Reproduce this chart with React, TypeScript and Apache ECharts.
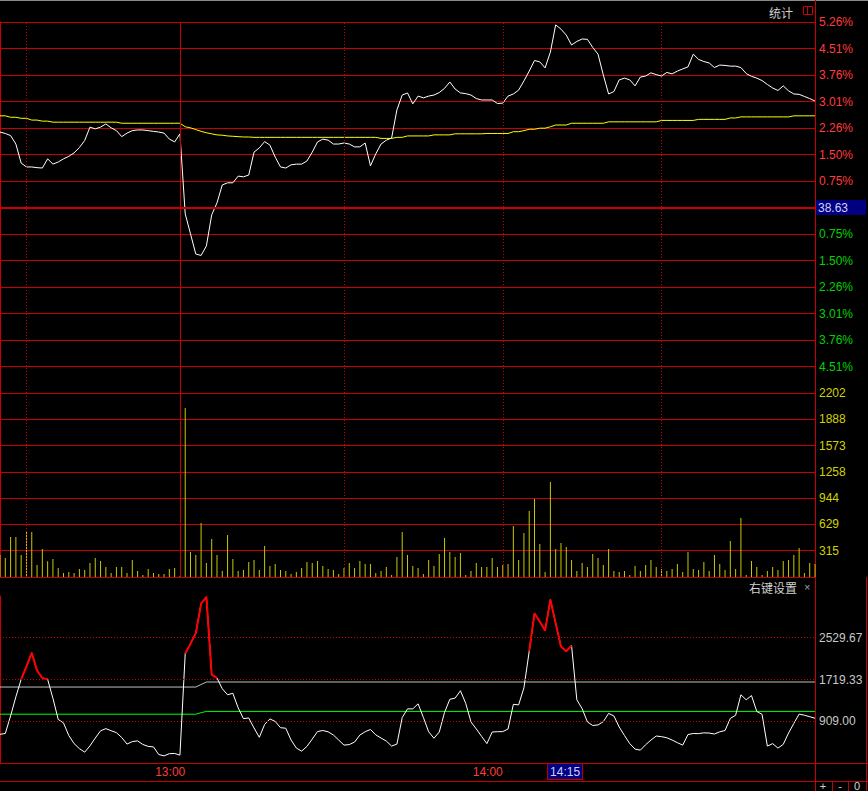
import React, { useEffect, useRef } from 'react';
import * as echarts from 'echarts';

// ---- data (one value per minute bar, left to right) ----
const priceChange = [
  2.14, 2.10, 2.04, 1.80, 1.26, 1.15, 1.15, 1.13, 1.12, 1.38,
  1.23, 1.29, 1.38, 1.45, 1.55, 1.70, 1.90, 2.28, 2.23, 2.28,
  2.37, 2.26, 2.18, 2.01, 2.11, 2.18, 2.20, 2.20, 2.18, 2.16,
  2.14, 2.11, 1.94, 1.86, 2.09, -0.18, -0.75, -1.32, -1.36, -1.09,
  -0.21, 0.13, 0.64, 0.70, 0.70, 0.89, 0.87, 0.92, 1.57, 1.69,
  1.87, 1.77, 1.43, 1.15, 1.12, 1.21, 1.23, 1.23, 1.32, 1.57,
  1.86, 1.94, 1.91, 1.80, 1.80, 1.83, 1.80, 1.72, 1.72, 1.83,
  1.18, 1.52, 1.80, 1.91, 1.97, 2.77, 3.19, 3.25, 2.94, 3.16,
  3.11, 3.16, 3.19, 3.26, 3.38, 3.56, 3.36, 3.25, 3.23, 3.19,
  3.09, 3.05, 3.05, 3.05, 2.95, 2.96, 3.16, 3.22, 3.33, 3.59,
  3.87, 4.17, 4.13, 3.96, 4.41, 5.18, 5.06, 4.89, 4.61, 4.71,
  4.78, 4.77, 4.54, 4.35, 3.76, 3.22, 3.29, 3.62, 3.67, 3.62,
  3.45, 3.70, 3.73, 3.82, 3.77, 3.73, 3.83, 3.79, 3.87, 3.93,
  3.99, 4.35, 4.20, 4.14, 4.10, 3.97, 4.04, 4.03, 4.01, 4.01,
  3.97, 3.80, 3.72, 3.67, 3.60, 3.49, 3.39, 3.32, 3.45, 3.31,
  3.22, 3.21, 3.15, 3.09, 3.02,
];

const avgChange = [
  2.60, 2.60, 2.56, 2.56, 2.53, 2.53, 2.48, 2.48, 2.45, 2.45,
  2.42, 2.42, 2.42, 2.42, 2.42, 2.42, 2.42, 2.42, 2.42, 2.42,
  2.42, 2.42, 2.42, 2.39, 2.39, 2.39, 2.39, 2.39, 2.39, 2.39,
  2.39, 2.39, 2.39, 2.39, 2.39, 2.29, 2.26, 2.21, 2.16, 2.12,
  2.09, 2.06, 2.05, 2.03, 2.02, 2.01, 2.00, 2.00, 1.99, 1.99,
  1.99, 1.99, 1.99, 1.99, 1.99, 1.99, 1.99, 1.99, 1.99, 1.99,
  1.99, 1.99, 1.99, 1.99, 1.99, 1.99, 1.99, 1.99, 1.99, 1.99,
  1.99, 1.99, 1.96, 1.96, 1.96, 1.99, 1.99, 2.03, 2.03, 2.03,
  2.03, 2.03, 2.06, 2.06, 2.06, 2.06, 2.09, 2.09, 2.09, 2.09,
  2.09, 2.09, 2.10, 2.10, 2.10, 2.10, 2.10, 2.15, 2.15, 2.18,
  2.22, 2.22, 2.25, 2.25, 2.29, 2.34, 2.34, 2.34, 2.39, 2.39,
  2.39, 2.39, 2.39, 2.39, 2.39, 2.43, 2.43, 2.43, 2.43, 2.43,
  2.43, 2.43, 2.43, 2.43, 2.43, 2.47, 2.47, 2.47, 2.47, 2.47,
  2.47, 2.47, 2.50, 2.50, 2.50, 2.50, 2.50, 2.50, 2.54, 2.54,
  2.57, 2.57, 2.57, 2.57, 2.57, 2.57, 2.57, 2.57, 2.57, 2.57,
  2.60, 2.60, 2.60, 2.60, 2.60,
];

const volume = [
  263, 227, 479, 479, 263, 539, 539, 144, 335, 188,
  215, 108, 48, 60, 48, 96, 84, 168, 227, 192,
  120, 48, 120, 120, 48, 204, 72, 24, 96, 48,
  36, 36, 96, 108, 12, 2023, 299, 263, 646, 168,
  455, 263, 72, 503, 215, 72, 84, 180, 204, 84,
  371, 132, 156, 84, 72, 36, 60, 108, 180, 168,
  192, 132, 96, 84, 36, 108, 168, 108, 192, 156,
  156, 48, 72, 120, 24, 240, 539, 263, 132, 108,
  36, 204, 132, 275, 467, 299, 239, 287, 24, 72,
  168, 120, 120, 227, 120, 144, 156, 610, 204, 527,
  790, 934, 395, 60, 1137, 335, 407, 359, 204, 72,
  168, 120, 275, 227, 144, 335, 72, 60, 72, 24,
  132, 72, 144, 204, 120, 96, 72, 96, 156, 60,
  299, 96, 84, 180, 72, 263, 156, 84, 431, 96,
  706, 24, 192, 120, 24, 72, 120, 84, 192, 204,
  263, 347, 48, 168, 156,
];

const indicator = [
  655, 671, 1012, 1384, 1722, 1975, 2237, 1891, 1749, 1722,
  1354, 944, 876, 632, 475, 378, 309, 431, 583, 723,
  766, 725, 688, 593, 466, 514, 528, 458, 421, 411,
  263, 237, 280, 284, 251, 2223, 2415, 2620, 3190, 3323,
  1813, 1749, 1540, 1423, 1452, 1169, 960, 973, 778, 597,
  847, 954, 905, 784, 774, 544, 388, 329, 421, 563,
  710, 729, 704, 641, 544, 446, 456, 505, 641, 706,
  749, 645, 583, 524, 427, 466, 981, 1149, 1149, 1247,
  983, 704, 579, 700, 1081, 1335, 1358, 1501, 1257, 895,
  759, 616, 475, 700, 706, 708, 759, 1237, 1227, 1559,
  2268, 3005, 2839, 2673, 3268, 2809, 2360, 2268, 2380, 1325,
  1153, 895, 827, 837, 901, 1061, 1012, 798, 632, 475,
  368, 348, 454, 544, 622, 610, 589, 544, 493, 446,
  651, 671, 669, 684, 680, 661, 704, 729, 964, 1026,
  1423, 1325, 1407, 1100, 1042, 427, 475, 388, 460, 680,
  866, 1048, 1026, 997, 968,
];

// breakpoints [bar, value] of the two slow reference lines of the indicator
const indSlowLine = [[0, 1573], [37, 1573], [38, 1622], [39, 1671], [154, 1671]];
const indFastLine = [[0, 1046], [37, 1046], [38, 1075], [39, 1100], [154, 1100]];

// axis ticks
const pctStep = 0.7517;
const pctTickLabels = ['0.75%', '1.50%', '2.26%', '3.01%', '3.76%', '4.51%', '5.26%'];
const basePriceLabel = '38.63';
const volTickLabels = ['315', '629', '944', '1258', '1573', '1888', '2202'];
const volMax = 2202;
const indTicks = [909.0, 1719.33, 2529.67];

// time grid (bar index)
const sessionBreak = 34;
const halfHourGrid = [5, 65, 95, 125];
const timeLabelPos = [35, 95];
const timeLabels = ['13:00', '14:00'];
const cursorPos = 110;
const cursorLabel = '14:15';

const RED_LINE = '#c80000';
const RED_TEXT = '#ff3c3c';
const GREEN_TEXT = '#00d200';
const YELLOW_TEXT = '#d2d200';
const GREY_TEXT = '#c8c8c8';
const FONT = '"Liberation Sans", Arial, sans-serif';
const CJK = '"Noto Sans CJK SC", sans-serif';

function buildOption() {
  const xMax = priceChange.length - 1;
  const volStep = volMax / volTickLabels.length;
  const indStep = indTicks[1] - indTicks[0];
  const indMin = indTicks[0] - indStep;
  const indMax = indTicks[indTicks.length - 1] + indStep;
  const threshold = indTicks[1];

  const vLines = [
    { xAxis: sessionBreak, lineStyle: { type: 'solid', color: RED_LINE, width: 1 } },
    ...halfHourGrid.map((x) => ({ xAxis: x, lineStyle: { type: [1, 2], color: RED_LINE, width: 1 } })),
  ];
  const markBase = { symbol: ['none', 'none'], silent: true, label: { show: false }, animation: false };

  const gridBase = { left: 0, right: 53, outerBoundsMode: 'none', containLabel: false, show: false };

  const xAxes = [0, 1, 2].map((g) => ({
    type: 'value',
    gridIndex: g,
    min: 0,
    max: xMax,
    axisLine: { show: g === 2, onZero: false, lineStyle: { color: RED_LINE, width: 1 } },
    axisTick: { show: false },
    splitLine: { show: false },
    axisLabel:
      g === 2
        ? {
            show: true,
            customValues: [...timeLabelPos, cursorPos],
            align: 'right',
            margin: 1,
            formatter: (v: number) => {
              if (Math.round(v) === cursorPos) return '{cur|' + cursorLabel + '}';
              const k = timeLabelPos.indexOf(Math.round(v));
              return k >= 0 ? '{t|' + timeLabels[k] + '}' : '';
            },
            rich: {
              t: { color: RED_TEXT, fontFamily: FONT, fontSize: 12, padding: [2, 0, 1, 0] },
              cur: {
                color: '#d0d0ff',
                backgroundColor: '#000080',
                borderColor: RED_LINE,
                borderWidth: 1,
                fontFamily: FONT,
                fontSize: 12,
                padding: [2, 2, 1, 2],
              },
            },
          }
        : { show: false },
  }));

  const btnText = (x: number, t: string) => ({
    type: 'text',
    x,
    y: 786,
    silent: true,
    style: {
      text: t,
      fill: '#d0d0d0',
      font: '11px ' + FONT,
      align: 'center',
      textAlign: 'center',
      verticalAlign: 'middle',
      textVerticalAlign: 'middle',
    },
  });

  return {
    animation: false,
    backgroundColor: '#000000',
    grid: [
      { ...gridBase, top: 22, height: 371 },
      { ...gridBase, top: 393, height: 184 },
      { ...gridBase, top: 596, height: 167 },
    ],
    xAxis: xAxes,
    yAxis: [
      {
        type: 'value',
        gridIndex: 0,
        position: 'right',
        min: -7 * pctStep,
        max: 7 * pctStep,
        interval: pctStep,
        axisLine: { show: true, lineStyle: { color: RED_LINE } },
        axisTick: { show: false },
        splitLine: { show: true, lineStyle: { color: RED_LINE, width: 1 } },
        axisLabel: {
          showMinLabel: false,
          margin: 1,
          formatter: (v: number) => {
            const k = Math.round(v / pctStep);
            if (k === 0) return '{base|' + basePriceLabel + '}';
            return k > 0 ? '{up|' + pctTickLabels[k - 1] + '}' : '{dn|' + pctTickLabels[-k - 1] + '}';
          },
          rich: {
            up: { color: RED_TEXT, fontFamily: FONT, fontSize: 12, padding: [0, 0, 0, 3] },
            dn: { color: GREEN_TEXT, fontFamily: FONT, fontSize: 12, padding: [0, 0, 0, 3] },
            base: {
              color: '#d0d0ff',
              backgroundColor: '#000080',
              fontFamily: FONT,
              fontSize: 12,
              width: 44,
              lineHeight: 13,
              padding: [2, 4, 1, 2],
            },
          },
        },
      },
      {
        type: 'value',
        gridIndex: 1,
        position: 'right',
        min: 0,
        max: volMax,
        interval: volStep,
        axisLine: { show: true, lineStyle: { color: RED_LINE } },
        axisTick: { show: false },
        splitLine: { show: true, lineStyle: { color: RED_LINE, width: 1 } },
        axisLabel: {
          showMinLabel: false,
          margin: 4,
          color: YELLOW_TEXT,
          fontFamily: FONT,
          fontSize: 12,
          formatter: (v: number) => {
            const k = Math.round(v / volStep);
            return k > 0 ? volTickLabels[k - 1] : '';
          },
        },
      },
      {
        type: 'value',
        gridIndex: 2,
        position: 'right',
        min: indMin,
        max: indMax,
        axisLine: { show: true, lineStyle: { color: RED_LINE } },
        axisTick: { show: false },
        splitLine: { show: false },
        axisLabel: {
          customValues: indTicks,
          margin: 4,
          color: GREY_TEXT,
          fontFamily: FONT,
          fontSize: 12,
          formatter: (v: number) => v.toFixed(2),
        },
      },
    ],
    series: [
      {
        name: 'avg',
        type: 'line',
        xAxisIndex: 0,
        yAxisIndex: 0,
        data: avgChange.map((v, i) => [i, v]),
        symbol: 'none',
        lineStyle: { color: '#ffff00', width: 1 },
        z: 2,
        markLine: {
          ...markBase,
          data: [...vLines, { yAxis: 0, lineStyle: { type: 'solid', color: RED_LINE, width: 2 } }],
        },
      },
      {
        name: 'price',
        type: 'line',
        xAxisIndex: 0,
        yAxisIndex: 0,
        data: priceChange.map((v, i) => [i, v]),
        symbol: 'none',
        lineStyle: { color: '#ffffff', width: 1 },
        z: 3,
      },
      {
        name: 'volume',
        type: 'bar',
        xAxisIndex: 1,
        yAxisIndex: 1,
        data: volume.map((v, i) => [i, v]),
        barWidth: 1,
        itemStyle: { color: '#c8c800' },
        z: 3,
        markLine: { ...markBase, data: vLines },
      },
      {
        name: 'slow',
        type: 'line',
        xAxisIndex: 2,
        yAxisIndex: 2,
        data: indSlowLine,
        symbol: 'none',
        lineStyle: { color: '#c0c0c0', width: 1 },
        z: 2,
        markLine: {
          ...markBase,
          data: indTicks.map((t) => ({ yAxis: t, lineStyle: { type: [1, 2], color: RED_LINE, width: 1 } })),
        },
      },
      {
        name: 'fast',
        type: 'line',
        xAxisIndex: 2,
        yAxisIndex: 2,
        data: indFastLine,
        symbol: 'none',
        lineStyle: { color: '#00ff00', width: 1 },
        z: 2,
      },
      {
        name: 'ind',
        type: 'line',
        xAxisIndex: 2,
        yAxisIndex: 2,
        data: indicator.map((v, i) => [i, v]),
        symbol: 'none',
        lineStyle: { color: '#ffffff', width: 1 },
        z: 3,
      },
      {
        name: 'indHigh',
        type: 'line',
        xAxisIndex: 2,
        yAxisIndex: 2,
        data: indicator.map((v, i) => (v > threshold ? [i, v] : [i, '-'])),
        symbol: 'none',
        connectNulls: false,
        lineStyle: { color: '#ff0000', width: 2 },
        z: 4,
      },
    ],
    graphic: [
      { type: 'rect', shape: { x: 0, y: 0, width: 868, height: 1 }, style: { fill: '#8a8a8a' }, silent: true },
      { type: 'line', shape: { x1: 815.5, y1: 0, x2: 815.5, y2: 791 }, style: { stroke: RED_LINE, lineWidth: 1 }, silent: true },
      { type: 'line', shape: { x1: 815, y1: 763.5, x2: 868, y2: 763.5 }, style: { stroke: RED_LINE, lineWidth: 1 }, silent: true },
      { type: 'line', shape: { x1: 0, y1: 781.5, x2: 868, y2: 781.5 }, style: { stroke: RED_LINE, lineWidth: 1 }, silent: true },
      { type: 'line', shape: { x1: 866.5, y1: 577, x2: 866.5, y2: 791 }, style: { stroke: RED_LINE, lineWidth: 1 }, silent: true },
      { type: 'line', shape: { x1: 832.5, y1: 781, x2: 832.5, y2: 791 }, style: { stroke: RED_LINE, lineWidth: 1 }, silent: true },
      { type: 'line', shape: { x1: 848.5, y1: 781, x2: 848.5, y2: 791 }, style: { stroke: RED_LINE, lineWidth: 1 }, silent: true },
      btnText(823, '+'),
      btnText(840, '-'),
      btnText(857, '0'),
      {
        type: 'text', x: 769, y: 12, silent: true,
        style: { text: '统计', fill: '#d0d0d0', font: '12px ' + CJK, align: 'left', textAlign: 'left', verticalAlign: 'middle', textVerticalAlign: 'middle' },
      },
      { type: 'rect', shape: { x: 803.5, y: 6.5, width: 9, height: 8 }, style: { fill: 'none', stroke: RED_LINE, lineWidth: 1 }, silent: true },
      { type: 'line', shape: { x1: 807.5, y1: 6.5, x2: 807.5, y2: 14.5 }, style: { stroke: RED_LINE, lineWidth: 1 }, silent: true },
      {
        type: 'text', x: 749, y: 587, silent: true,
        style: { text: '右键设置', fill: '#d0d0d0', font: '12px ' + CJK, align: 'left', textAlign: 'left', verticalAlign: 'middle', textVerticalAlign: 'middle' },
      },
      {
        type: 'text', x: 804, y: 587, silent: true,
        style: { text: '×', fill: '#a0a0a0', font: '11px ' + FONT, align: 'left', textAlign: 'left', verticalAlign: 'middle', textVerticalAlign: 'middle' },
      },
    ],
  };
}

export default function App() {
  const ref = useRef<HTMLDivElement>(null);
  useEffect(() => {
    if (!ref.current) return;
    const chart = echarts.init(ref.current, null, { renderer: 'svg', width: 868, height: 791 });
    chart.setOption(buildOption() as any);
    return () => chart.dispose();
  }, []);
  return (
    <div
      ref={ref}
      style={{ position: 'fixed', left: 0, top: 0, width: 868, height: 791, background: '#000000' }}
    />
  );
}
